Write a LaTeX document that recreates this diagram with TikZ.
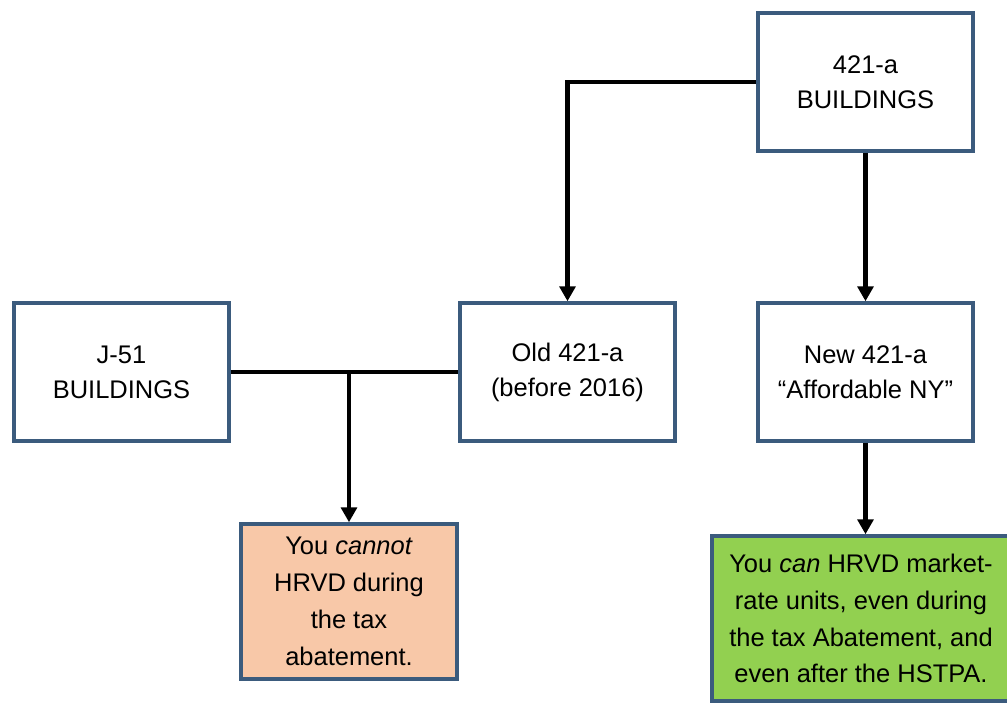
\documentclass[tikz,border=0pt]{standalone}
\usepackage{fontspec}
\setmainfont{Liberation Sans}
\usepackage{xcolor}
\usetikzlibrary{arrows.meta, positioning}

\definecolor{boxline}{HTML}{3B5B7D}
\definecolor{nofill}{HTML}{F8C8A8}
\definecolor{yesfill}{HTML}{92D050}

\begin{document}
\begin{tikzpicture}[
        building/.style={rectangle, draw=boxline, line width=2pt, fill=white, minimum width=4.3cm, minimum height=2.76cm, align=center, font=\fontsize{14.5}{20}\selectfont},
        verdict/.style={rectangle, draw=boxline, line width=2pt, align=center, font=\fontsize{14.5}{21}\selectfont},
        arrow/.style={-{Triangle[length=8.5pt,width=9pt]}, line width=2.3pt},
        link/.style={line width=2.3pt}
    ]
    \useasboundingbox (0,0) rectangle (20.14,-14.06);

    % Gebaeude
    \node[building] (top) at (17.31,-1.64) {421-a\\BUILDINGS};
    \node[building] (new) at (17.31,-7.44) {New 421-a\\``Affordable NY''};
    \node[building] (old) at (11.35,-7.44) {Old 421-a\\(before 2016)};
    \node[building] (jfiftyone) at (2.43,-7.44) {J-51\\BUILDINGS};

    % Ergebnis
    \node[verdict, fill=nofill, minimum width=4.32cm, minimum height=3.1cm] (cannot) at (6.98,-12.03) {You \textit{cannot}\\HRVD during\\the tax\\abatement.};
    \node[verdict, fill=yesfill, minimum width=5.96cm, minimum height=3.3cm] (can) at (17.22,-12.37) {You \textit{can} HRVD market-\\rate units, even during\\the tax Abatement, and\\even after the HSTPA.};

    % Verbindungen
    \draw[arrow] (top.west) -| (old.north);
    \draw[arrow] (top) -- (new);
    \draw[link] (jfiftyone.east) -- (old.west);
    \coordinate (split) at (cannot.north |- old.west);
    \draw[arrow] (split) -- (cannot.north);
    \draw[arrow] (new.south) -- (new.south |- can.north);

\end{tikzpicture}
\end{document}
